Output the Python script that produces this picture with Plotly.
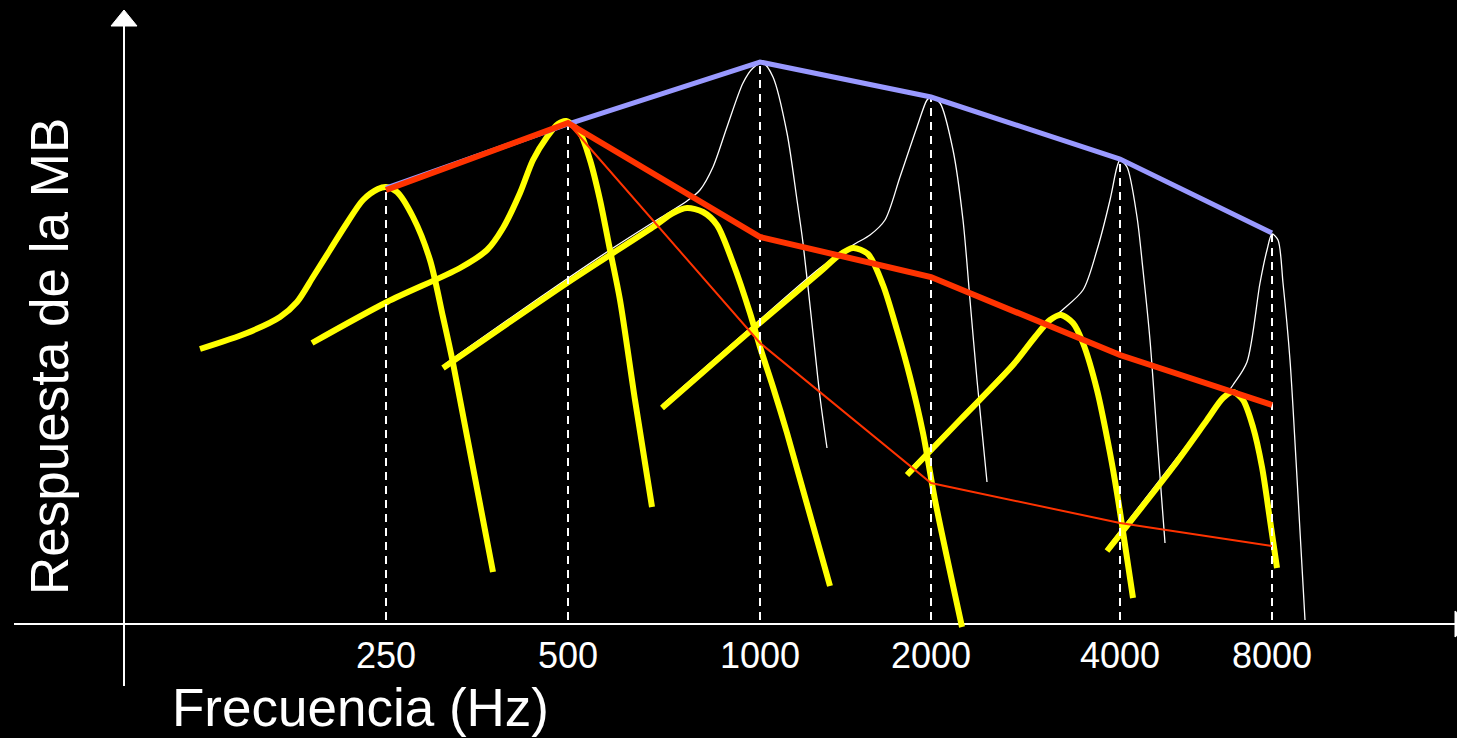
import plotly.graph_objects as go

# Frequency positions on the horizontal axis (arbitrary position units) and labels
TICK_X = [262, 444, 636, 807, 996, 1148]
TICK_LABELS = ["250", "500", "1000", "2000", "4000", "8000"]

# Envelope of filter peaks (blue), masked excitation pattern (thick red), thin red
BLUE_Y = [436, 500, 562, 527, 465, 391]
RED_THICK_Y = [434, 501, 387, 347, 269, 219]
RED_THIN_X = [444, 636, 807, 996, 1148]
RED_THIN_Y = [501, 281, 141, 101, 78]

# Yellow filter curves (masked auditory filters)
Y1_X = [76, 123, 156, 173, 189, 206, 223, 239, 254, 262, 273, 289, 306, 319, 329, 369]
Y1_Y = [275, 291, 307, 322, 347, 374, 401, 424, 435, 437, 432, 407, 364, 307, 261, 52]
Y2_X = [188, 263, 336, 363, 379, 396, 409, 423, 434, 442, 456, 466, 476, 486, 496, 511, 528]
Y2_Y = [281, 322, 356, 374, 396, 431, 464, 487, 500, 503, 491, 464, 424, 374, 324, 224, 117]
Y3_X = [319, 443, 529, 549, 563, 579, 593, 609, 626, 636, 649, 663, 706]
Y3_Y = [256, 341, 397, 411, 416, 412, 399, 361, 311, 277, 237, 191, 38]
Y4_X = [538, 631, 696, 714, 729, 744, 759, 773, 786, 799, 811, 838]
Y4_Y = [216, 297, 352, 368, 376, 370, 339, 294, 247, 191, 124, -3]
Y5_X = [783, 836, 889, 911, 926, 937, 949, 959, 973, 986, 993, 1009]
Y5_Y = [149, 204, 259, 287, 304, 309, 301, 281, 234, 171, 131, 26]
Y6_X = [983, 1049, 1083, 1099, 1109, 1119, 1129, 1138, 1146, 1153]
Y6_Y = [73, 157, 204, 226, 232, 224, 197, 157, 104, 56]

# White thin curves (unmasked auditory filters)
W1_X = [321, 421, 489, 536, 563, 576, 589, 603, 619, 629, 639, 649, 663, 673, 679, 689, 696, 703]
W1_Y = [260, 330, 376, 406, 423, 434, 457, 497, 541, 556, 561, 547, 491, 424, 381, 291, 227, 176]
W2_X = [538, 631, 696, 729, 746, 761, 776, 793, 803, 807, 816, 829, 839, 846, 853, 863]
W2_Y = [219, 300, 356, 379, 389, 404, 447, 497, 524, 527, 521, 474, 404, 324, 244, 142]
W3_X = [783, 889, 916, 936, 959, 973, 986, 993, 996, 1003, 1013, 1019, 1026, 1034, 1041]
W3_Y = [152, 262, 294, 312, 334, 374, 424, 457, 464, 457, 407, 354, 284, 174, 81]
W4_X = [983, 1049, 1109, 1123, 1136, 1143, 1148, 1154, 1159, 1166, 1172, 1181]
W4_Y = [76, 161, 239, 262, 341, 374, 390, 384, 341, 264, 164, 4]

YELLOW = [(Y1_X, Y1_Y), (Y2_X, Y2_Y), (Y3_X, Y3_Y), (Y4_X, Y4_Y), (Y5_X, Y5_Y), (Y6_X, Y6_Y)]
WHITE = [(W1_X, W1_Y), (W2_X, W2_Y), (W3_X, W3_Y), (W4_X, W4_Y)]

X_TITLE = "Frecuencia (Hz)"
Y_TITLE = "Respuesta de la MB"

FONT = "Liberation Sans, Arial, sans-serif"

fig = go.Figure()

# Axes (drawn as lines with arrowheads)
fig.add_trace(go.Scatter(x=[-110, 1340], y=[0, 0], mode="lines",
                         line=dict(color="white", width=2), hoverinfo="skip"))
fig.add_trace(go.Scatter(x=[1331, 1331, 1347, 1331], y=[13, -13, 0, 13], mode="lines",
                         fill="toself", fillcolor="white", line=dict(color="white", width=1),
                         hoverinfo="skip"))
fig.add_trace(go.Scatter(x=[0, 0], y=[-62, 600], mode="lines",
                         line=dict(color="white", width=2), hoverinfo="skip"))
fig.add_trace(go.Scatter(x=[-13, 13, 0, -13], y=[598, 598, 614, 598], mode="lines",
                         fill="toself", fillcolor="white", line=dict(color="white", width=1),
                         hoverinfo="skip"))

# White thin filter shapes
for xs, ys in WHITE:
    fig.add_trace(go.Scatter(x=xs, y=ys, mode="lines",
                             line=dict(color="white", width=1.3, shape="spline", smoothing=0.8),
                             hoverinfo="skip"))

# Yellow filter shapes
for xs, ys in YELLOW:
    fig.add_trace(go.Scatter(x=xs, y=ys, mode="lines",
                             line=dict(color="#FFFF00", width=6, shape="spline", smoothing=0.8),
                             hoverinfo="skip"))

# Dashed verticals at each frequency
for x, top in zip(TICK_X, BLUE_Y):
    fig.add_trace(go.Scatter(x=[x, x], y=[4, top], mode="lines",
                             line=dict(color="white", width=2, dash="8px,6px"),
                             hoverinfo="skip"))

# Blue envelope
fig.add_trace(go.Scatter(x=TICK_X, y=BLUE_Y, mode="lines",
                         line=dict(color="#9999FF", width=5), hoverinfo="skip"))
# Red thick
fig.add_trace(go.Scatter(x=TICK_X, y=RED_THICK_Y, mode="lines",
                         line=dict(color="#FF3300", width=6), hoverinfo="skip"))
# Red thin
fig.add_trace(go.Scatter(x=RED_THIN_X, y=RED_THIN_Y, mode="lines",
                         line=dict(color="#FF3300", width=2), hoverinfo="skip"))

annotations = []
for x, lab in zip(TICK_X, TICK_LABELS):
    annotations.append(dict(x=x, y=-31, text=lab, showarrow=False, xanchor="center",
                            yanchor="middle", font=dict(family=FONT, size=36, color="white")))
annotations.append(dict(x=236, y=-83, text=X_TITLE, showarrow=False, xanchor="center",
                        yanchor="middle", font=dict(family=FONT, size=53, color="white")))
annotations.append(dict(x=-75, y=267, text=Y_TITLE, showarrow=False, xanchor="center",
                        yanchor="middle", textangle=-90,
                        font=dict(family=FONT, size=53, color="white")))

fig.update_layout(
    width=1457, height=738,
    margin=dict(l=0, r=0, t=0, b=0),
    paper_bgcolor="black", plot_bgcolor="black",
    showlegend=False,
    xaxis=dict(range=[-124, 1333], visible=False, fixedrange=True),
    yaxis=dict(range=[-114, 624], visible=False, fixedrange=True),
    annotations=annotations,
)

fig.write_html(
    "out.html",
    config={"displayModeBar": False},
    post_script="document.body.style.margin='0';document.body.style.padding='0';"
                "document.body.style.background='black';document.body.style.overflow='hidden';",
)
